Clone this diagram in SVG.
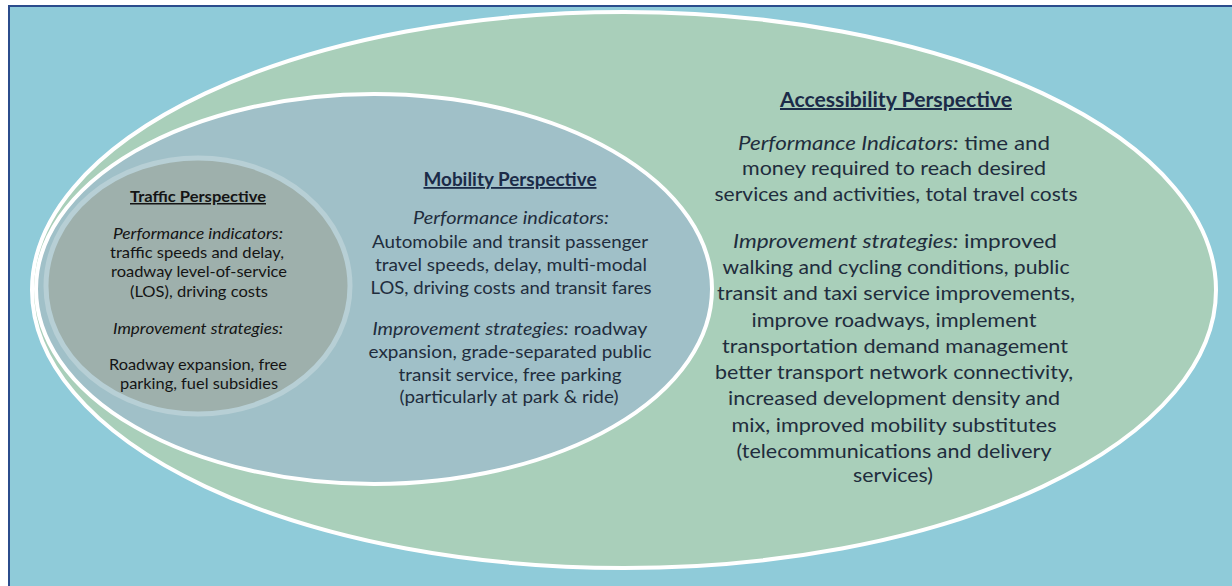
<svg xmlns="http://www.w3.org/2000/svg" width="1232" height="586" viewBox="0 0 1232 586">
  <style>
    .t { font-family: Lato, "Liberation Sans", sans-serif; fill: #1F2D3D; text-anchor: middle; }
    .h { font-weight: bold; text-decoration: underline; fill: #1B2B48; }
    .i { font-style: italic; }
    .tr { font-size: 15px; fill: #141414; }
    .mo { font-size: 18px; }
    .ac { font-size: 20px; }
  </style>
  <rect x="0" y="0" width="1232" height="586" fill="#FFFFFF"/>
  <rect id="panel" x="9" y="6" width="1240" height="600" fill="#8FCBD9" stroke="#2B4C8C" stroke-width="2"/>

  <g id="accessibility">
    <ellipse cx="624" cy="290" rx="592" ry="278" fill="#A9CFBA" stroke="#FFFFFF" stroke-width="4"/>
    <text class="t ac h" x="896" y="107" textLength="232" lengthAdjust="spacingAndGlyphs">Accessibility Perspective</text>
    <text class="t ac" x="894" y="150" textLength="312" lengthAdjust="spacingAndGlyphs"><tspan class="i">Performance Indicators:</tspan> time and</text>
    <text class="t ac" x="894" y="175" textLength="304" lengthAdjust="spacingAndGlyphs">money required to reach desired</text>
    <text class="t ac" x="896" y="201" textLength="363" lengthAdjust="spacingAndGlyphs">services and activities, total travel costs</text>
    <text class="t ac" x="895" y="248" textLength="324" lengthAdjust="spacingAndGlyphs"><tspan class="i">Improvement strategies:</tspan> improved</text>
    <text class="t ac" x="896" y="274" textLength="347" lengthAdjust="spacingAndGlyphs">walking and cycling conditions, public</text>
    <text class="t ac" x="896" y="300" textLength="358" lengthAdjust="spacingAndGlyphs">transit and taxi service improvements,</text>
    <text class="t ac" x="894" y="327" textLength="285" lengthAdjust="spacingAndGlyphs">improve roadways, implement</text>
    <text class="t ac" x="895" y="353" textLength="346" lengthAdjust="spacingAndGlyphs">transportation demand management</text>
    <text class="t ac" x="894" y="379" textLength="358" lengthAdjust="spacingAndGlyphs">better transport network connectivity,</text>
    <text class="t ac" x="894" y="405" textLength="332" lengthAdjust="spacingAndGlyphs">increased development density and</text>
    <text class="t ac" x="894" y="432" textLength="325" lengthAdjust="spacingAndGlyphs">mix, improved mobility substitutes</text>
    <text class="t ac" x="894" y="458" textLength="315" lengthAdjust="spacingAndGlyphs">(telecommunications and delivery</text>
    <text class="t ac" x="893" y="482" textLength="80" lengthAdjust="spacingAndGlyphs">services)</text>
  </g>

  <g id="mobility">
    <ellipse cx="374" cy="289" rx="338" ry="195" fill="#A0C0C8" stroke="#FFFFFF" stroke-width="4"/>
    <text class="t mo h" x="510" y="186" textLength="173" lengthAdjust="spacingAndGlyphs">Mobility Perspective</text>
    <text class="t mo i" x="511" y="224" textLength="196" lengthAdjust="spacingAndGlyphs">Performance indicators:</text>
    <text class="t mo" x="510" y="248" textLength="276" lengthAdjust="spacingAndGlyphs">Automobile and transit passenger</text>
    <text class="t mo" x="511" y="271" textLength="272" lengthAdjust="spacingAndGlyphs">travel speeds, delay, multi-modal</text>
    <text class="t mo" x="511" y="294" textLength="281" lengthAdjust="spacingAndGlyphs">LOS, driving costs and transit fares</text>
    <text class="t mo" x="510" y="335" textLength="275" lengthAdjust="spacingAndGlyphs"><tspan class="i">Improvement strategies:</tspan> roadway</text>
    <text class="t mo" x="510" y="358" textLength="283" lengthAdjust="spacingAndGlyphs">expansion, grade-separated public</text>
    <text class="t mo" x="510" y="381" textLength="223" lengthAdjust="spacingAndGlyphs">transit service, free parking</text>
    <text class="t mo" x="509" y="403" textLength="219" lengthAdjust="spacingAndGlyphs">(particularly at park &amp; ride)</text>
  </g>

  <g id="traffic">
    <ellipse cx="198" cy="286" rx="152" ry="128" fill="#9EB0AC" stroke="#B7CFD5" stroke-width="5"/>
    <text class="t tr h" x="198" y="202" textLength="136" lengthAdjust="spacingAndGlyphs">Traffic Perspective</text>
    <text class="t tr i" x="198" y="239" textLength="170" lengthAdjust="spacingAndGlyphs">Performance indicators:</text>
    <text class="t tr" x="197" y="258" textLength="174" lengthAdjust="spacingAndGlyphs">traffic speeds and delay,</text>
    <text class="t tr" x="199" y="277" textLength="176" lengthAdjust="spacingAndGlyphs">roadway level-of-service</text>
    <text class="t tr" x="199" y="297" textLength="138" lengthAdjust="spacingAndGlyphs">(LOS), driving costs</text>
    <text class="t tr i" x="198" y="334" textLength="170" lengthAdjust="spacingAndGlyphs">Improvement strategies:</text>
    <text class="t tr" x="198" y="370" textLength="178" lengthAdjust="spacingAndGlyphs">Roadway expansion, free</text>
    <text class="t tr" x="199" y="389" textLength="158" lengthAdjust="spacingAndGlyphs">parking, fuel subsidies</text>
  </g>

  <g id="connectors"></g>
</svg>
